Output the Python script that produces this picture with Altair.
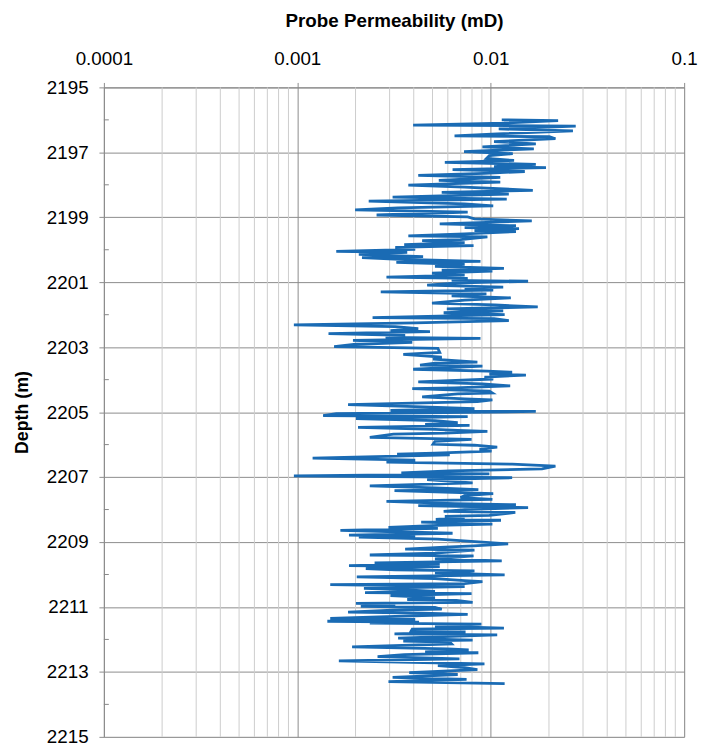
import altair as alt
import pandas as pd

# Depth (m) and probe permeability (mD)
depth = [
    2196.00, 2196.02, 2196.10, 2196.16, 2196.19, 2196.28, 2196.34, 2196.43, 2196.49, 2196.52,
    2196.58, 2196.67, 2196.74, 2196.83, 2196.89, 2196.98, 2197.04, 2197.10, 2197.19, 2197.25,
    2197.31, 2197.37, 2197.44, 2197.47, 2197.53, 2197.59, 2197.65, 2197.71, 2197.77, 2197.86,
    2197.92, 2198.01, 2198.07, 2198.17, 2198.23, 2198.29, 2198.38, 2198.44, 2198.50, 2198.59,
    2198.65, 2198.71, 2198.77, 2198.84, 2198.93, 2198.99, 2199.05, 2199.11, 2199.20, 2199.26,
    2199.32, 2199.35, 2199.41, 2199.44, 2199.51, 2199.57, 2199.60, 2199.69, 2199.72, 2199.78,
    2199.84, 2199.87, 2199.93, 2199.99, 2200.05, 2200.08, 2200.14, 2200.21, 2200.24, 2200.30,
    2200.36, 2200.39, 2200.45, 2200.51, 2200.57, 2200.63, 2200.66, 2200.72, 2200.78, 2200.84,
    2200.88, 2200.94, 2200.97, 2201.03, 2201.09, 2201.15, 2201.18, 2201.24, 2201.30, 2201.36,
    2201.42, 2201.48, 2201.55, 2201.64, 2201.70, 2201.76, 2201.82, 2201.88, 2201.94, 2202.00,
    2202.09, 2202.12, 2202.18, 2202.25, 2202.31, 2202.37, 2202.43, 2202.49, 2202.52, 2202.58,
    2202.64, 2202.70, 2202.73, 2202.79, 2202.85, 2202.91, 2202.98, 2203.04, 2203.16, 2203.22,
    2203.31, 2203.37, 2203.46, 2203.49, 2203.55, 2203.58, 2203.68, 2203.74, 2203.77, 2203.83,
    2203.86, 2203.92, 2203.98, 2204.07, 2204.13, 2204.19, 2204.25, 2204.28, 2204.35, 2204.41,
    2204.44, 2204.53, 2204.59, 2204.62, 2204.68, 2204.77, 2204.83, 2204.89, 2204.95, 2204.98,
    2205.05, 2205.11, 2205.14, 2205.20, 2205.26, 2205.32, 2205.38, 2205.41, 2205.47, 2205.53,
    2205.56, 2205.59, 2205.65, 2205.68, 2205.78, 2205.84, 2205.90, 2205.99, 2206.02, 2206.08,
    2206.14, 2206.20, 2206.26, 2206.29, 2206.32, 2206.42, 2206.48, 2206.54, 2206.60, 2206.66,
    2206.75, 2206.81, 2206.87, 2206.90, 2206.96, 2207.02, 2207.08, 2207.18, 2207.27, 2207.33,
    2207.39, 2207.42, 2207.51, 2207.57, 2207.63, 2207.69, 2207.75, 2207.82, 2207.85, 2207.88,
    2207.94, 2208.00, 2208.06, 2208.09, 2208.18, 2208.21, 2208.24, 2208.30, 2208.33, 2208.39,
    2208.45, 2208.49, 2208.55, 2208.58, 2208.64, 2208.73, 2208.79, 2208.82, 2208.85, 2208.91,
    2208.97, 2209.06, 2209.12, 2209.16, 2209.22, 2209.25, 2209.34, 2209.40, 2209.43, 2209.52,
    2209.58, 2209.64, 2209.67, 2209.73, 2209.76, 2209.82, 2209.86, 2209.89, 2209.95, 2210.01,
    2210.07, 2210.13, 2210.19, 2210.22, 2210.28, 2210.31, 2210.37, 2210.43, 2210.46, 2210.52,
    2210.56, 2210.59, 2210.65, 2210.71, 2210.77, 2210.80, 2210.86, 2210.89, 2210.92, 2210.98,
    2211.01, 2211.07, 2211.10, 2211.16, 2211.19, 2211.23, 2211.29, 2211.35, 2211.38, 2211.44,
    2211.47, 2211.50, 2211.53, 2211.59, 2211.65, 2211.68, 2211.74, 2211.77, 2211.83, 2211.86,
    2211.96, 2212.02, 2212.05, 2212.08, 2212.14, 2212.23, 2212.29, 2212.32, 2212.38, 2212.41,
    2212.47, 2212.53, 2212.60, 2212.66, 2212.75, 2212.81, 2212.87, 2212.93, 2213.02, 2213.08,
    2213.17, 2213.23, 2213.30, 2213.36,
]

permeability = [
    0.0114, 0.0223, 0.0117, 0.00397, 0.0275, 0.0110, 0.0266, 0.0108, 0.00650, 0.0201,
    0.0216, 0.0104, 0.0171, 0.00906, 0.0167, 0.00728, 0.0130, 0.00984, 0.00950, 0.0132,
    0.00579, 0.0171, 0.0104, 0.0193, 0.00635, 0.0150, 0.00928, 0.00422, 0.0112, 0.00539,
    0.0112, 0.00375, 0.00733, 0.0165, 0.00558, 0.0124, 0.00311, 0.0121, 0.00234, 0.00733,
    0.0103, 0.00332, 0.00199, 0.00760, 0.00257, 0.00760, 0.00824, 0.0163, 0.00545, 0.0135,
    0.00733, 0.0140, 0.00824, 0.0135, 0.00733, 0.00375, 0.00961, 0.00698, 0.00442, 0.00733,
    0.00357, 0.00815, 0.00321, 0.00407, 0.00159, 0.00370, 0.00208, 0.00447, 0.00216, 0.00361,
    0.00885, 0.00325, 0.00733, 0.00515, 0.0117, 0.00558, 0.0102, 0.00497, 0.00733, 0.00289,
    0.00760, 0.00628, 0.0156, 0.00650, 0.00469, 0.0116, 0.00733, 0.0103, 0.00270, 0.00950,
    0.00628, 0.0127, 0.00733, 0.00497, 0.0105, 0.0175, 0.00593, 0.0116, 0.00571, 0.0118,
    0.00245, 0.0104, 0.0124, 0.00407, 0.00096, 0.00321, 0.00422, 0.00303, 0.00485, 0.00145,
    0.00361, 0.00286, 0.00885, 0.00194, 0.00393, 0.00201, 0.00155, 0.00533, 0.00545, 0.00353,
    0.00558, 0.00503, 0.00853, 0.00515, 0.00431, 0.00906, 0.00397, 0.00961, 0.0129, 0.00984,
    0.0152, 0.00928, 0.0103, 0.00422, 0.00906, 0.0126, 0.00650, 0.00393, 0.00984, 0.0102,
    0.00675, 0.00442, 0.00733, 0.0102, 0.00853, 0.00183, 0.00407, 0.00824, 0.00303, 0.0171,
    0.00159, 0.00136, 0.00760, 0.00201, 0.00515, 0.00675, 0.00458, 0.00777, 0.00206, 0.00515,
    0.00675, 0.00961, 0.00579, 0.00314, 0.00237, 0.00796, 0.00515, 0.00503, 0.00824, 0.0108,
    0.00875, 0.0101, 0.00515, 0.00328, 0.00614, 0.00120, 0.00407, 0.00289, 0.0129, 0.0216,
    0.0184, 0.00614, 0.00345, 0.00984, 0.00096, 0.0129, 0.00469, 0.00806, 0.00237, 0.00515,
    0.00863, 0.00318, 0.0103, 0.00733, 0.00698, 0.0102, 0.00289, 0.00650, 0.0135, 0.00422,
    0.0156, 0.00733, 0.00571, 0.0134, 0.00984, 0.00579, 0.00733, 0.00520, 0.0113, 0.00437,
    0.0102, 0.00533, 0.00296, 0.00533, 0.00167, 0.00635, 0.00185, 0.00407, 0.00208, 0.00533,
    0.00760, 0.0123, 0.00815, 0.00579, 0.00361, 0.00824, 0.00515, 0.00237, 0.00815, 0.00515,
    0.0114, 0.00251, 0.00545, 0.00185, 0.00545, 0.00226, 0.00321, 0.00824, 0.00515, 0.0118,
    0.00203, 0.00515, 0.00733, 0.00906, 0.00733, 0.00148, 0.00733, 0.00221, 0.00332, 0.00515,
    0.00224, 0.00796, 0.00303, 0.00515, 0.00370, 0.00665, 0.00806, 0.00201, 0.00321, 0.00213,
    0.00515, 0.00558, 0.00311, 0.00183, 0.00442, 0.00760, 0.00321, 0.00148, 0.00407, 0.00143,
    0.00426, 0.00237, 0.00895, 0.00515, 0.0117, 0.00393, 0.00388, 0.00741, 0.00318, 0.0108,
    0.00332, 0.00806, 0.00353, 0.00614, 0.00628, 0.00192, 0.00600, 0.00769, 0.00458, 0.00863,
    0.00357, 0.00260, 0.00689, 0.00164, 0.00928, 0.00533, 0.00733, 0.00853, 0.00379, 0.00675,
    0.00311, 0.00750, 0.00296, 0.0118,
]

x_major_ticks = [0.0001, 0.001, 0.01, 0.1]
x_minor_grid = [
    0.0002, 0.0003, 0.0004, 0.0005, 0.0006, 0.0007, 0.0008, 0.0009,
    0.002, 0.003, 0.004, 0.005, 0.006, 0.007, 0.008, 0.009,
    0.02, 0.03, 0.04, 0.05, 0.06, 0.07, 0.08, 0.09,
]
y_major_ticks = [2195, 2197, 2199, 2201, 2203, 2205, 2207, 2209, 2211, 2213, 2215]
y_minor_ticks = [2196, 2198, 2200, 2202, 2204, 2206, 2208, 2210, 2212, 2214]

df = pd.DataFrame({"idx": list(range(len(depth))), "depth": depth, "perm": permeability})
minor_df = pd.DataFrame({"perm": x_minor_grid})
yminor_df = pd.DataFrame({"depth": y_minor_ticks})

FONT = "Liberation Sans"

x_scale = alt.Scale(type="log", domain=[0.0001, 0.1], nice=False)
y_scale = alt.Scale(domain=[2195, 2215], reverse=True, nice=False, zero=False)

x_enc = alt.X(
    "perm:Q",
    scale=x_scale,
    title="Probe Permeability (mD)",
    axis=alt.Axis(
        orient="top",
        values=x_major_ticks,
        format=".4~f",
        grid=True,
        gridColor="#8c8c8c",
        gridWidth=1,
        domainColor="#8c8c8c",
        tickColor="#8c8c8c",
        tickSize=5,
        labelPadding=14,
        labelFontSize=19,
        labelFont=FONT,
        labelColor="#000000",
        labelFlush=False,
        titleFont=FONT,
        titleFontSize=19,
        titleFontWeight="bold",
        titleColor="#000000",
        titlePadding=20,
    ),
)

y_enc = alt.Y(
    "depth:Q",
    scale=y_scale,
    title="Depth (m)",
    axis=alt.Axis(
        values=y_major_ticks,
        format="d",
        grid=True,
        gridColor="#8c8c8c",
        gridWidth=1,
        domainColor="#8c8c8c",
        tickColor="#8c8c8c",
        tickSize=5,
        labelPadding=11,
        labelFontSize=19,
        labelFont=FONT,
        labelColor="#000000",
        titleFont=FONT,
        titleFontSize=18,
        titleFontWeight="bold",
        titleColor="#000000",
        titlePadding=15,
    ),
)

minor = alt.Chart(minor_df).mark_rule(color="#cccccc", strokeWidth=1).encode(x=x_enc)

yminor = alt.Chart(yminor_df).mark_rule(color="#888888", strokeWidth=1).encode(
    y=y_enc,
    x=alt.value(0),
    x2=alt.value(5),
)

line = alt.Chart(df).mark_line(color="#1a6bb4", strokeWidth=2.8).encode(
    x=x_enc,
    y=y_enc,
    order=alt.Order("idx:Q"),
)

chart = (
    alt.layer(minor, yminor, line)
    .properties(
        width=587,
        height=657,
        autosize=alt.AutoSizeParams(type="none"),
        padding={"left": 97, "top": 76, "right": 14, "bottom": 10},
    )
    .configure_view(stroke="#000000", strokeWidth=1)
    .configure(background="white")
)

chart.save("out.html", embed_options={"renderer": "svg", "actions": False})
